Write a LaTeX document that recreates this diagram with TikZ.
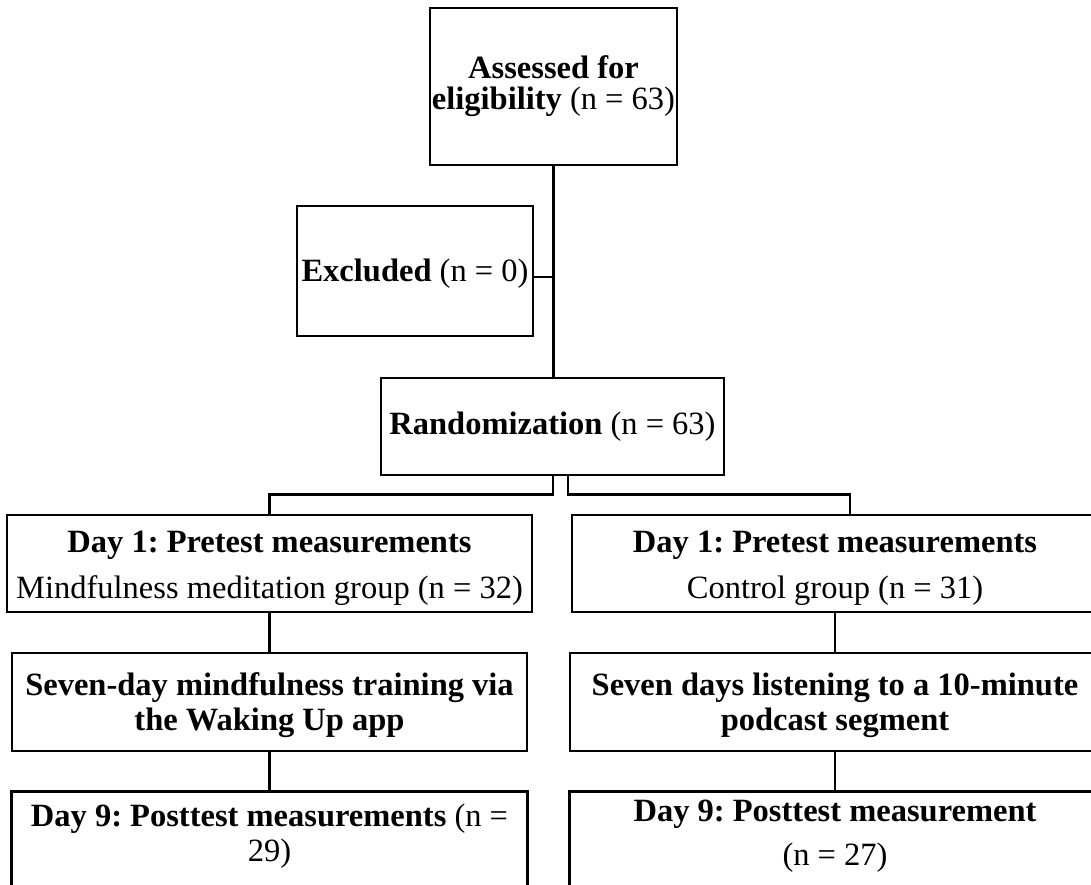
\documentclass[tikz,border=0pt]{standalone}
\usepackage{fontspec}
\setmainfont{Liberation Serif}
\frenchspacing
\begin{document}
\begin{tikzpicture}[x=1pt,y=-1pt,
  box/.style={draw, line width=2.7pt, align=center, inner sep=0pt,
    font=\fontsize{32.5}{31}\selectfont},
  plain/.style={align=center, inner sep=0pt, font=\fontsize{32.5}{31}\selectfont},
  boxline/.style={line width=2.7pt},
  conn/.style={line width=2.4pt}]
\useasboundingbox (0,0) rectangle (1091,884);
\clip (0,0) rectangle (1091,884);
\fill[white] (0,0) rectangle (1091,884);
% boxes
\node[box, minimum width=247pt, minimum height=157pt] (assess) at (553.5,86.5)
  {\textbf{Assessed for}\\\textbf{eligibility} (n = 63)};
\node[box, minimum width=236pt, minimum height=130pt] (excl) at (415,271)
  {\rule{0pt}{27pt}\textbf{Excluded} (n = 0)};
\node[box, minimum width=343pt, minimum height=97pt] (rand) at (552.5,426.5)
  {\textbf{Randomization} (n = 63)};
\node[box, minimum width=525pt, minimum height=97pt] (d1L) at (269.5,563.5)
  {\rule{0pt}{30pt}\textbf{Day 1: Pretest measurements}\\[15pt]Mindfulness meditation group (n = 32)};
\node[box, minimum width=526pt, minimum height=97pt] (d1R) at (835,563.5)
  {\rule{0pt}{30pt}\textbf{Day 1: Pretest measurements}\\[15pt]Control group (n = 31)};
\node[box, minimum width=515pt, minimum height=98pt] (s7L) at (269.5,702)
  {\rule{0pt}{29pt}\textbf{Seven-day mindfulness training via}\\[4pt]\textbf{the Waking Up app}};
\node[box, minimum width=530pt, minimum height=98pt] (s7R) at (835,702)
  {\rule{0pt}{29pt}\textbf{Seven days listening to a 10-minute}\\[4pt]\textbf{podcast segment}};
\node[plain, minimum width=515pt, minimum height=88pt] (d9L) at (269.5,836)
  {\textbf{Day 9: Posttest measurements} (n =\\[4pt]29)};
\node[plain, minimum width=530pt, minimum height=88pt] (d9R) at (835,836)
  {\textbf{Day 9: Posttest measurement}\\[13pt](n = 27)};
\draw[boxline] ([yshift=-20pt]d9L.south west) -- (d9L.north west) -- (d9L.north east) -- ([yshift=-20pt]d9L.south east);
\draw[boxline] ([yshift=-20pt]d9R.south west) -- (d9R.north west) -- (d9R.north east) -- ([yshift=-20pt]d9R.south east);
% connectors
\draw[conn] (assess.south) -- (rand.north -| assess.south);
\coordinate (exj) at ([yshift=-6pt]excl.east);
\draw[conn] (exj) -- (exj -| assess.south);
\draw[conn] ([xshift=0.5pt]rand.south) |- ([yshift=19pt]d1L.north) -- (d1L.north);
\draw[conn] ([xshift=15.5pt]rand.south) |- ([xshift=15pt,yshift=19pt]d1R.north) -- ([xshift=15pt]d1R.north);
\draw[conn] (d1L.south) -- (s7L.north);
\draw[conn] (d1R.south) -- (s7R.north);
\draw[conn] (s7L.south) -- (d9L.north);
\draw[conn] (s7R.south) -- (d9R.north);
\end{tikzpicture}
\end{document}
